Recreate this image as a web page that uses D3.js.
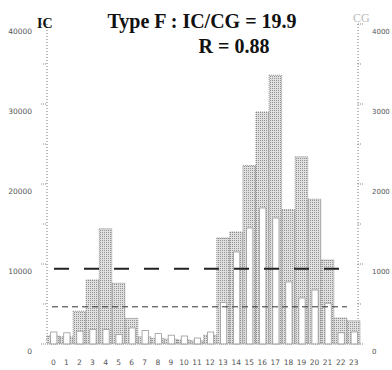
<!DOCTYPE html>
<html>
<head>
<meta charset="utf-8">
<script src="https://cdn.jsdelivr.net/npm/d3@7"></script>
<style>
  body { margin: 0; background: #fff; }
  svg { display: block; }
</style>
</head>
<body>
<div id="chart"></div>
<script>
// hours of the day and flash counts
var hours = [0, 1, 2, 3, 4, 5, 6, 7, 8, 9, 10, 11, 12, 13, 14, 15, 16, 17, 18, 19, 20, 21, 22, 23];
var icCounts = [1000, 900, 4100, 8000, 14400, 7600, 3200, 900, 700, 600, 500, 400, 1100, 13250, 14000, 22300, 29000, 33600, 16800, 23400, 18100, 10500, 3250, 2900];
var cgCounts = [150, 140, 160, 180, 180, 120, 200, 170, 130, 110, 100, 75, 150, 520, 1150, 1450, 1700, 1575, 775, 575, 675, 510, 140, 150];
var icTicks = [0, 10000, 20000, 30000, 40000];
var cgTicks = [0, 1000, 2000, 3000, 4000];
var icMean = 9400;
var cgMean = 465;

var W = 392, H = 370;
var svg = d3.select("#chart").append("svg")
    .attr("width", W)
    .attr("height", H);

// stipple fill like the printed bars
var defs = svg.append("defs");
var pat = defs.append("pattern")
    .attr("id", "stip")
    .attr("width", 2).attr("height", 2)
    .attr("patternUnits", "userSpaceOnUse");
pat.append("rect").attr("width", 2).attr("height", 2).attr("fill", "#e0e0e0");
pat.append("rect").attr("width", 1).attr("height", 1).attr("fill", "#939393");

var x = d3.scaleBand()
    .domain(hours)
    .range([47, 360])
    .paddingInner(0.04);

var yIC = d3.scaleLinear().domain([0, 40000]).range([344, 24]);
var yCG = d3.scaleLinear().domain([0, 4000]).range([344, 24]);

// left axis (IC)
var left = svg.append("g").attr("class", "axis-left");
left.append("line")
    .attr("x1", 47).attr("x2", 47)
    .attr("y1", yIC(40000)).attr("y2", yIC(0))
    .attr("stroke", "#777").attr("stroke-dasharray", "1,2");
left.selectAll("line.tick")
    .data(d3.range(0, 40001, 5000))
    .enter().append("line")
    .attr("class", "tick")
    .attr("x1", d => d % 10000 == 0 ? 41 : 43).attr("x2", 47)
    .attr("y1", d => yIC(d)).attr("y2", d => yIC(d))
    .attr("stroke", "#888").attr("stroke-dasharray", "1,1");
left.selectAll("text")
    .data(icTicks)
    .enter().append("text")
    .attr("x", 32)
    .attr("y", d => yIC(d) + 10)
    .attr("text-anchor", "end")
    .style("font-family", "DejaVu Sans")
    .style("font-size", "7.5px")
    .style("fill", "#555")
    .text(d => d);

// right axis (CG)
var right = svg.append("g").attr("class", "axis-right");
right.append("line")
    .attr("x1", 358).attr("x2", 358)
    .attr("y1", yCG(4000)).attr("y2", yCG(0))
    .attr("stroke", "#777").attr("stroke-dasharray", "1,2");
right.selectAll("line.tick")
    .data(d3.range(0, 4001, 500))
    .enter().append("line")
    .attr("class", "tick")
    .attr("x1", 358).attr("x2", d => d % 1000 == 0 ? 363 : 361)
    .attr("y1", d => yCG(d)).attr("y2", d => yCG(d))
    .attr("stroke", "#888").attr("stroke-dasharray", "1,1");
right.selectAll("text")
    .data(cgTicks)
    .enter().append("text")
    .attr("x", 372)
    .attr("y", d => yCG(d) + 10)
    .style("font-family", "DejaVu Sans")
    .style("font-size", "7px")
    .style("fill", "#555")
    .text(d => d);

// IC bars
svg.append("g").selectAll("rect")
    .data(hours)
    .enter().append("rect")
    .attr("x", d => x(d))
    .attr("y", d => yIC(icCounts[d]))
    .attr("width", x.bandwidth())
    .attr("height", d => yIC(0) - yIC(icCounts[d]))
    .attr("fill", "url(#stip)")
    .attr("stroke", "#777")
    .attr("stroke-width", 0.8)
    .attr("stroke-dasharray", "1,1");

// CG bars, narrow and white, in front
var cgW = x.bandwidth() * 0.5;
svg.append("g").selectAll("rect")
    .data(hours)
    .enter().append("rect")
    .attr("x", d => x(d) + (x.bandwidth() - cgW) / 2 + 0.5)
    .attr("y", d => yCG(cgCounts[d]))
    .attr("width", cgW)
    .attr("height", d => yCG(0) - yCG(cgCounts[d]))
    .attr("fill", "#fff")
    .attr("stroke", "#999")
    .attr("stroke-width", 0.8);

// baseline
svg.append("line")
    .attr("x1", 47).attr("x2", 358)
    .attr("y1", yIC(0)).attr("y2", yIC(0))
    .attr("stroke", "#aaa").attr("stroke-dasharray", "1,1");

// mean lines
svg.append("line")
    .attr("x1", 54).attr("x2", 339)
    .attr("y1", yIC(icMean)).attr("y2", yIC(icMean))
    .attr("stroke", "#222").attr("stroke-width", 2)
    .attr("stroke-dasharray", "15,15");
svg.append("line")
    .attr("x1", 52).attr("x2", 347)
    .attr("y1", yCG(cgMean)).attr("y2", yCG(cgMean))
    .attr("stroke", "#333").attr("stroke-width", 1)
    .attr("stroke-dasharray", "6,4");

// hour labels
svg.append("g").selectAll("text")
    .data(hours)
    .enter().append("text")
    .attr("x", d => x(d) + x.bandwidth() / 2)
    .attr("y", 365)
    .attr("text-anchor", "middle")
    .style("font-family", "DejaVu Sans")
    .style("font-size", "7.5px")
    .style("fill", "#555")
    .text(d => d);

// titles
svg.append("text")
    .attr("x", 202).attr("y", 28)
    .attr("text-anchor", "middle")
    .style("font-family", "Liberation Serif")
    .style("font-weight", "bold")
    .style("font-size", "20px")
    .style("fill", "#111")
    .text("Type F : IC/CG = 19.9");
svg.append("text")
    .attr("x", 234).attr("y", 53)
    .attr("text-anchor", "middle")
    .style("font-family", "Liberation Serif")
    .style("font-weight", "bold")
    .style("font-size", "20px")
    .style("fill", "#111")
    .text("R = 0.88");
svg.append("text")
    .attr("x", 37).attr("y", 28)
    .style("font-family", "Liberation Serif")
    .style("font-weight", "bold")
    .style("font-size", "14px")
    .style("fill", "#111")
    .text("IC");
svg.append("text")
    .attr("x", 353).attr("y", 22)
    .style("font-family", "Liberation Serif")
    .style("font-size", "12px")
    .style("fill", "#bbb")
    .text("CG");
</script>
</body>
</html>
